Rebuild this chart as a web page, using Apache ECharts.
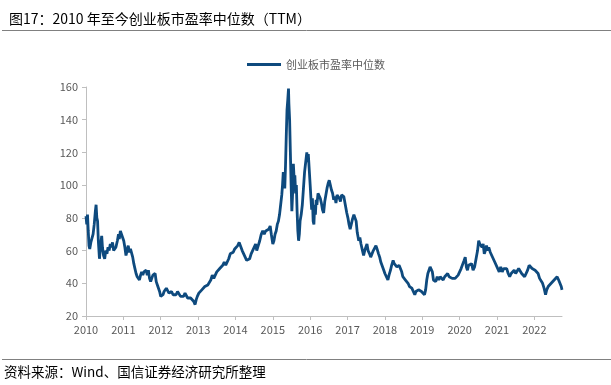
<!DOCTYPE html>
<html><head><meta charset="utf-8">
<script src="https://cdn.jsdelivr.net/npm/echarts@6/dist/echarts.min.js"></script>
<style>html,body{margin:0;padding:0;background:#fff}#c{width:611px;height:385px}</style>
</head><body><div id="c"></div>
<script>
const titleText = '图17：2010 年至今创业板市盈率中位数（TTM）';
const sourceText = '资料来源：Wind、国信证券经济研究所整理';
const seriesName = '创业板市盈率中位数';
const yTicks = [20, 40, 60, 80, 100, 120, 140, 160];
const xYears = [2010,2011,2012,2013,2014,2015,2016,2017,2018,2019,2020,2021,2022];
const times = [
2010.00,2010.02,2010.04,2010.06,2010.08,2010.10,2010.13,2010.16,2010.19,2010.22,2010.25,2010.27,2010.29,2010.31,2010.33,2010.36,2010.38,2010.40,2010.42,2010.44,2010.47,2010.50,2010.53,2010.56,2010.59,2010.62,2010.65,2010.68,2010.71,2010.74,2010.77,2010.80,2010.84,2010.87,2010.89,2010.92,2010.95,2010.98,
2011.01,2011.04,2011.07,2011.10,2011.13,2011.16,2011.19,2011.22,2011.25,2011.28,2011.31,2011.34,2011.37,2011.40,2011.43,2011.46,2011.49,2011.52,2011.55,2011.58,2011.61,2011.64,2011.67,2011.70,2011.73,2011.76,2011.79,2011.82,2011.85,2011.88,2011.91,2011.94,2011.97,
2012.00,2012.03,2012.06,2012.09,2012.12,2012.15,2012.19,2012.22,2012.25,2012.29,2012.33,2012.37,2012.41,2012.45,2012.49,2012.53,2012.57,2012.61,2012.65,2012.69,2012.72,2012.76,2012.80,2012.84,2012.88,2012.92,2012.95,2012.98,
2013.02,2013.06,2013.10,2013.14,2013.18,2013.22,2013.26,2013.30,2013.34,2013.38,2013.42,2013.46,2013.50,2013.54,2013.58,2013.62,2013.66,2013.70,2013.74,2013.78,2013.82,2013.86,2013.90,2013.94,2013.98,
2014.02,2014.06,2014.10,2014.14,2014.18,2014.22,2014.26,2014.30,2014.34,2014.38,2014.42,2014.46,2014.50,2014.54,2014.57,2014.61,2014.65,2014.69,2014.73,2014.77,2014.81,2014.85,2014.89,2014.93,2014.96,
2015.00,2015.03,2015.06,2015.09,2015.12,2015.15,2015.18,2015.21,2015.24,2015.26,2015.28,2015.30,2015.32,2015.34,2015.36,2015.38,2015.40,2015.42,2015.43,2015.45,2015.47,2015.49,2015.51,2015.53,2015.55,2015.57,2015.59,2015.61,2015.63,2015.65,2015.67,2015.69,2015.71,2015.73,2015.76,2015.79,2015.82,2015.85,2015.87,2015.89,2015.91,2015.93,2015.95,2015.97,
2016.00,2016.02,2016.04,2016.06,2016.08,2016.10,2016.12,2016.14,2016.16,2016.18,2016.21,2016.24,2016.27,2016.30,2016.33,2016.36,2016.39,2016.42,2016.45,2016.48,2016.51,2016.54,2016.57,2016.60,2016.63,2016.66,2016.69,2016.72,2016.75,2016.78,2016.81,2016.84,2016.87,2016.90,2016.94,2016.98,
2017.01,2017.04,2017.07,2017.10,2017.13,2017.17,2017.20,2017.23,2017.26,2017.30,2017.33,2017.36,2017.40,2017.43,2017.46,2017.49,2017.52,2017.55,2017.59,2017.62,2017.65,2017.69,2017.72,2017.76,2017.79,2017.83,2017.86,2017.89,2017.93,2017.97,
2018.00,2018.04,2018.08,2018.11,2018.15,2018.18,2018.22,2018.25,2018.28,2018.32,2018.35,2018.38,2018.41,2018.45,2018.48,2018.52,2018.55,2018.59,2018.62,2018.66,2018.69,2018.72,2018.76,2018.80,2018.83,2018.87,2018.90,2018.94,2018.98,
2019.02,2019.06,2019.09,2019.12,2019.15,2019.18,2019.21,2019.24,2019.27,2019.30,2019.33,2019.36,2019.40,2019.44,2019.48,2019.52,2019.56,2019.60,2019.64,2019.68,2019.72,2019.76,2019.80,2019.84,2019.88,2019.92,2019.96,
2020.00,2020.04,2020.08,2020.12,2020.15,2020.18,2020.21,2020.24,2020.28,2020.32,2020.36,2020.40,2020.44,2020.48,2020.51,2020.54,2020.57,2020.60,2020.63,2020.66,2020.69,2020.72,2020.75,2020.78,2020.82,2020.86,2020.90,2020.94,2020.98,
2021.02,2021.06,2021.10,2021.14,2021.18,2021.22,2021.26,2021.30,2021.34,2021.38,2021.42,2021.46,2021.50,2021.54,2021.58,2021.62,2021.66,2021.70,2021.74,2021.78,2021.82,2021.86,2021.90,2021.94,2021.98,
2022.02,2022.06,2022.10,2022.14,2022.18,2022.22,2022.26,2022.30,2022.33,2022.37,2022.41,2022.45,2022.49,2022.53,2022.57,2022.61,2022.65,2022.69,2022.72,2022.74
];
const values = [
81,76,82,72,63,61,65,64,70,76,84,88,80,78,66,55,60,65,69,62,57,55,60,58,62,60,64,62,65,60,59,62,66,70,67,72,73,68,
66,62,57,60,63,59,61,60,56,52,49,46,44,43,42,45,47,45,47,46,48,45,48,43,41,43,45,44,46,41,39,37,35,
32,31,33,35,36,37,38,34,33,35,33,34,33,35,34,32,33,32,34,33,31,32,31,30,29,27,30,32,
34,35,36,35,38,37,39,40,42,45,43,45,47,46,49,50,51,53,51,50,55,58,57,59,61,
60,63,65,64,60,58,56,54,53,55,58,60,62,64,60,63,66,70,72,70,72,71,73,75,70,
64,66,70,72,76,78,82,88,94,100,108,103,98,112,130,146,152,159,150,140,120,100,84,95,113,104,106,95,100,84,72,66,70,78,82,88,98,108,112,116,120,114,119,118,
100,92,85,92,78,76,88,82,91,88,95,96,92,89,85,83,90,94,98,101,103,100,97,95,91,93,89,94,95,92,90,94,95,93,88,83,
80,76,73,76,79,82,83,78,71,66,68,64,60,57,60,62,64,60,58,56,57,60,61,63,61,58,56,53,52,48,
46,44,42,45,48,51,54,52,53,50,49,51,50,47,44,43,42,41,40,38,39,37,36,33,35,34,36,37,35,
34,33,36,42,46,48,50,51,47,42,43,41,44,42,44,43,42,44,45,46,44,45,43,42,43,44,45,
47,49,50,54,56,50,48,51,50,52,48,50,55,60,66,64,65,62,64,58,60,63,60,62,59,57,55,53,52,
49,47,50,47,49,48,49,46,44,46,47,48,46,47,49,48,46,47,44,45,48,51,50,49,50,
48,47,46,43,42,40,37,33,36,38,39,40,41,42,43,44,42,41,38,36
];
const font = '"Noto Sans CJK SC", "Noto Sans", sans-serif';
const chart = echarts.init(document.getElementById('c'), null, {renderer: 'canvas'});
const data = times.map((t, i) => [t, values[i]]);
chart.setOption({
  animation: false,
  backgroundColor: '#fff',
  title: {text: titleText, left: 4, top: 7, textStyle: {fontFamily: font, fontSize: 14, fontWeight: 'normal', color: '#000'}},
  legend: {data: [seriesName], left: 242, top: 54, itemWidth: 34, itemHeight: 3, itemGap: 4, icon: 'rect',
    textStyle: {fontFamily: font, fontSize: 11, color: '#595959'}},
  grid: {left: 86, right: 49, top: 87, bottom: 69},
  xAxis: {type: 'value', min: 2010, max: 2022.74, interval: 1,
    axisLine: {lineStyle: {color: '#bfbfbf', width: 1}},
    axisTick: {show: true, length: 4, lineStyle: {color: '#bfbfbf'}},
    splitLine: {show: false},
    axisLabel: {fontFamily: font, fontSize: 11, color: '#595959', margin: 8,
      showMaxLabel: false,
      formatter: v => xYears.includes(Math.round(v)) ? String(Math.round(v)) : ''}},
  yAxis: {type: 'value', min: yTicks[0], max: yTicks[yTicks.length-1], interval: 20,
    axisLine: {show: true, lineStyle: {color: '#bfbfbf', width: 1}},
    axisTick: {show: true, length: 4, lineStyle: {color: '#bfbfbf'}},
    splitLine: {show: false},
    axisLabel: {fontFamily: font, fontSize: 11, color: '#595959', margin: 8}},
  series: [{name: seriesName, type: 'line', data: data, showSymbol: false, symbol: 'none',
    lineStyle: {color: '#0e4a7e', width: 2.8}, itemStyle: {color: '#0e4a7e'}}],
  graphic: [
    {type: 'line', shape: {x1: 2, y1: 30.5, x2: 611, y2: 30.5}, style: {stroke: '#808080', lineWidth: 1}},
    {type: 'line', shape: {x1: 2, y1: 359.5, x2: 611, y2: 359.5}, style: {stroke: '#808080', lineWidth: 1}},
    {type: 'text', left: 4, top: 365, style: {text: sourceText, font: '13.5px ' + font, fill: '#000'}}
  ]
});
</script></body></html>
